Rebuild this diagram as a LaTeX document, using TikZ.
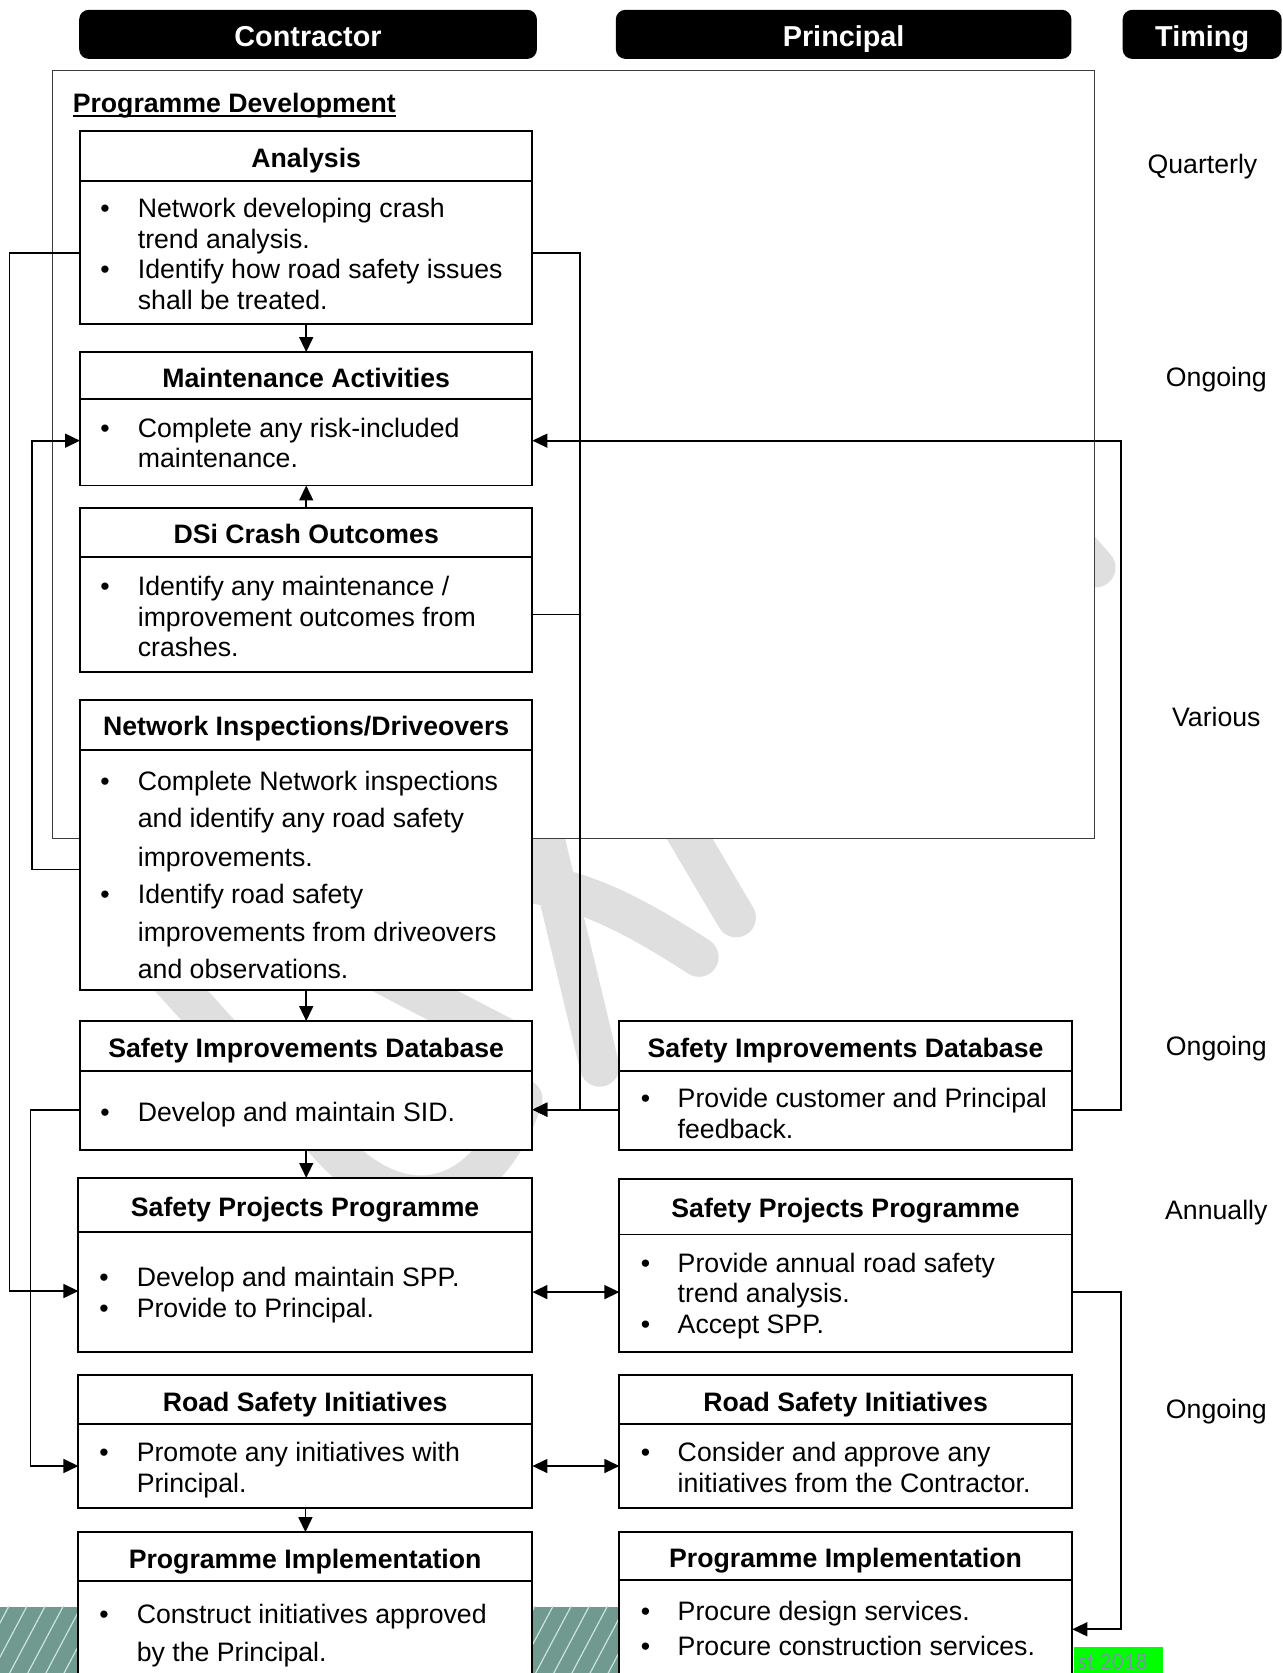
\documentclass[tikz,border=0pt]{standalone}
\usepackage{fontspec}
\setmainfont{Liberation Sans}
\newfontfamily\stampfont{Carlito}
\usetikzlibrary{arrows.meta}

\definecolor{wmgrey}{RGB}{223,223,223}
\definecolor{footteal}{RGB}{112,154,144}
\definecolor{foothatch}{RGB}{205,228,222}
\definecolor{stampgreen}{RGB}{0,255,0}
\definecolor{stamptext}{RGB}{122,150,162}
\definecolor{framegrey}{RGB}{60,60,60}

\newcommand\bodyfont{\fontsize{25}{28}\selectfont}
% card: name, left, top, right, bottom, divider
\newcommand\card[6]{%
  \node[card, anchor=north west, minimum width={#4-#2}, minimum height={#5-#3}] (#1) at (#2,#3) {};
  \draw[cardline] (#1.west |- 0,#6) -- (#1.east |- 0,#6);}
% heading: name, x centre, y centre, text
\newcommand\hd[4]{\node[headtxt] (#1) at ({#2},{#3+9}) {#4};}
% body line: name, x, y centre, text
\newcommand\bl[4]{\node[bodytxt] (#1) at ({#2},{#3+9}) {#4};}
% bullet: name, x centre, y centre
\newcommand\bd[3]{\node[bodytxt, anchor=base] (#1) at ({#2},{#3+9}) {\textbullet};}

\begin{document}
\begin{tikzpicture}[x=1pt,y=-1pt,
  card/.style={draw, rectangle, line width=1.8pt, fill=white, inner sep=0pt, outer sep=0pt},
  cardline/.style={line width=1.8pt},
  bodytxt/.style={anchor=base west, inner sep=0pt, font=\bodyfont},
  headtxt/.style={anchor=base, inner sep=0pt, font=\bodyfont\bfseries},
  timing/.style={anchor=base, inner sep=0pt, font=\bodyfont},
  topbar/.style={rectangle, fill=black, rounded corners=9pt, inner sep=0pt,
    text height=26pt, text depth=4pt,
    text=white, font=\fontsize{27}{30}\selectfont\bfseries},
  link/.style={line width=1.6pt},
  conn/.style={line width=1.6pt, -{Triangle[length=14pt,width=13pt]}},
  conn2/.style={line width=1.6pt, {Triangle[length=14pt,width=13pt]}-{Triangle[length=14pt,width=13pt]}}]

\clip (0,0) rectangle (1202,1568);
\fill[white] (0,0) rectangle (1202,1568);

% background stamp strokes
\begin{scope}[wmgrey, line width=37pt, line cap=round]
  \draw (950,445) -- (1027,532);
  \draw (560,640) -- (690,860);
  \draw (430,835) .. controls (500,815) and (560,835) .. (655,897);
  \draw (490,700) -- (562,1000);
  \draw (260,1000) .. controls (340,1160) and (450,1150) .. (490,1030);
  \draw (135,890) -- (230,995);
  \draw (320,893) -- (480,976);
\end{scope}

% hatched footer band
\fill[footteal] (0,1506) rectangle (800,1568);
\begin{scope}
  \clip (0,1506) rectangle (800,1568);
  \foreach \i in {-60,-43,...,800}
    \draw[foothatch, line width=1.1pt] (\i,1570) -- ({\i+35},1504);
\end{scope}

% footer stamp
\fill[stampgreen] (1007,1544) rectangle (1090,1568);
\node[anchor=base west, inner sep=0pt, text=stamptext, font=\stampfont\fontsize{22}{24}\selectfont] (stamp) at (1010,1565) {st 2018};

% column headings
\node[topbar, minimum width=429pt, minimum height=46pt, anchor=north west] (hc) at (74,9) {Contractor};
\node[topbar, minimum width=427pt, minimum height=46pt, anchor=north west] (hp) at (577,9) {Principal};
\node[topbar, minimum width=149pt, minimum height=46pt, anchor=north west] (ht) at (1052,9) {Timing};

% programme development frame
\node[draw=framegrey, fill=white, line width=1pt, rectangle, inner sep=0pt, anchor=north west,
  minimum width=976pt, minimum height=719pt] (frame) at (49,66) {};
\node[anchor=base west, inner sep=0pt, font=\bodyfont\bfseries] (pdev) at (68,105) {Programme Development};
\draw[line width=1.6pt] ([yshift=-4pt]pdev.base west) -- ([yshift=-4pt]pdev.base east);

% contractor cards
\card{an}{75}{123}{499}{304}{170}
\card{ma}{75}{330}{499}{455}{374}
\card{ds}{75}{476}{499}{630}{522}
\card{ni}{75}{656}{499}{928}{703}
\card{sl}{75}{957}{499}{1078}{1004}
\card{pl}{73.5}{1104}{499}{1267}{1155}
\card{rl}{73.5}{1289}{499}{1413}{1335}
\card{il}{73.5}{1436}{499}{1620}{1482}

% principal cards
\card{sr}{580.5}{957}{1005}{1078}{1004}
\card{pr}{580.5}{1105}{1005}{1267}{1157}
\card{rr}{580.5}{1289}{1005}{1413}{1335}
\card{ir}{580.5}{1436}{1005}{1620}{1481}

% card headings
\hd{anh}{287}{148}{Analysis}
\hd{mah}{287}{354}{Maintenance Activities}
\hd{dsh}{287}{500}{DSi Crash Outcomes}
\hd{nih}{287}{680}{Network Inspections/Driveovers}
\hd{slh}{287}{982}{Safety Improvements Database}
\hd{plh}{286}{1131}{Safety Projects Programme}
\hd{rlh}{286}{1314}{Road Safety Initiatives}
\hd{ilh}{286}{1461}{Programme Implementation}
\hd{srh}{792.5}{982}{Safety Improvements Database}
\hd{prh}{792.5}{1132}{Safety Projects Programme}
\hd{rrh}{792.5}{1314}{Road Safety Initiatives}
\hd{irh}{792.5}{1460}{Programme Implementation}

% contractor card text
\bd{anb1}{98.5}{195}\bl{an1}{129}{195}{Network developing crash}
\bl{an2}{129}{224}{trend analysis.}
\bd{anb2}{98.5}{252}\bl{an3}{129}{252}{Identify how road safety issues}
\bl{an4}{129}{281}{shall be treated.}

\bd{mab1}{98.5}{401}\bl{ma1}{129}{401}{Complete any risk-included}
\bl{ma2}{129}{429}{maintenance.}

\bd{dsb1}{98.5}{549}\bl{ds1}{129}{549}{Identify any maintenance /}
\bl{ds2}{129}{578}{improvement outcomes from}
\bl{ds3}{129}{606}{crashes.}

\bd{nib1}{98.5}{732}\bl{ni1}{129}{732}{Complete Network inspections}
\bl{ni2}{129}{767}{and identify any road safety}
\bl{ni3}{129}{803}{improvements.}
\bd{nib2}{98.5}{838}\bl{ni4}{129}{838}{Identify road safety}
\bl{ni5}{129}{873}{improvements from driveovers}
\bl{ni6}{129}{908}{and observations.}

\bd{slb1}{98.5}{1042}\bl{sl1}{129}{1042}{Develop and maintain SID.}

\bd{plb1}{97.5}{1197}\bl{pl1}{128}{1197}{Develop and maintain SPP.}
\bd{plb2}{97.5}{1226}\bl{pl2}{128}{1226}{Provide to Principal.}

\bd{rlb1}{97.5}{1361}\bl{rl1}{128}{1361}{Promote any initiatives with}
\bl{rl2}{128}{1390}{Principal.}

\bd{ilb1}{97.5}{1513}\bl{il1}{128}{1513}{Construct initiatives approved}
\bl{il2}{128}{1548}{by the Principal.}

% principal card text
\bd{srb1}{605}{1029}\bl{sr1}{635}{1029}{Provide customer and Principal}
\bl{sr2}{635}{1058}{feedback.}

\bd{prb1}{605}{1184}\bl{pr1}{635}{1184}{Provide annual road safety}
\bl{pr2}{635}{1212}{trend analysis.}
\bd{prb2}{605}{1241}\bl{pr3}{635}{1241}{Accept SPP.}

\bd{rrb1}{605}{1361}\bl{rr1}{635}{1361}{Consider and approve any}
\bl{rr2}{635}{1390}{initiatives from the Contractor.}

\bd{irb1}{605}{1510}\bl{ir1}{635}{1510}{Procure design services.}
\bd{irb2}{605}{1543}\bl{ir2}{635}{1543}{Procure construction services.}

% timing column
\node[timing] (tq) at (1127,163) {Quarterly};
\node[timing] (tg1) at (1140,362) {Ongoing};
\node[timing] (tv) at (1140,681) {Various};
\node[timing] (tg2) at (1140,989) {Ongoing};
\node[timing] (ta) at (1140,1143) {Annually};
\node[timing] (tg3) at (1140,1329) {Ongoing};

% connectors down the contractor column
\draw[conn] (an.south) -- (ma.north);
\draw[conn] (ds.north) -- (ma.south);
\draw[conn] (ni.south) -- (sl.north);
\draw[conn] (sl.south) -- (pl.north -| sl.south);
\draw[conn] (rl.south) -- (il.north);

% left-hand feedback loops
\draw[conn] (an.west |- 0,237) -- (9,237) -- (9,1210) -- (pl.west |- 0,1210);
\draw[conn] (ni.west |- 0,815) -- (30,815) -- (30,413) -- (ma.west |- 0,413);
\draw[conn] (sl.west |- 0,1040) -- (28.5,1040) -- (28.5,1374) -- (rl.west |- 0,1374);

% right-hand feeds into the database
\draw[link] (ds.east |- 0,576) -- (543.5,576);
\draw[conn] (an.east |- 0,237) -- (543.5,237) -- (543.5,1040) -- (sl.east |- 0,1040);
\draw[conn] (sr.west |- 0,1040) -- (sl.east |- 0,1040);
\draw[conn] (sr.east |- 0,1040) -- (1050.5,1040) -- (1050.5,413) -- (ma.east |- 0,413);

% contractor / principal exchanges
\draw[conn2] (pl.east |- 0,1211) -- (pr.west |- 0,1211);
\draw[conn2] (rl.east |- 0,1374) -- (rr.west |- 0,1374);
\draw[conn] (pr.east |- 0,1211) -- (1050.5,1211) -- (1050.5,1527) -- (ir.east |- 0,1527);

\end{tikzpicture}
\end{document}
